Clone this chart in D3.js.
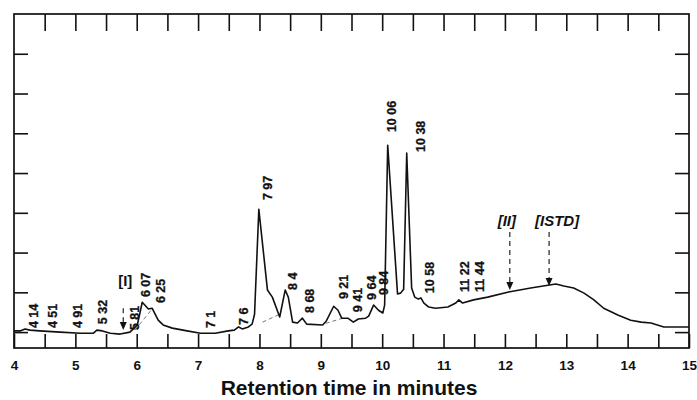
<html>

<head>
    <meta charset="utf-8">
    <style>
        body { margin: 0; background: #fff; }
        text { font-family: "Liberation Sans", Arial, sans-serif; font-weight: bold; }
    </style>
</head>

<body>
    <script src="https://cdn.jsdelivr.net/npm/d3@7"></script>
    <script>
        // trace: retention time (min) and detector signal (tick units)
        var times = [4.00, 4.10, 4.18, 4.26, 4.42, 4.75, 5.08, 5.29, 5.35, 5.44, 5.57, 5.73, 5.89, 6.01, 6.09, 6.19, 6.25,
            6.35, 6.43, 6.58, 6.82, 7.04, 7.28, 7.49, 7.59, 7.66, 7.72, 7.82, 7.88, 7.92, 7.99, 8.13, 8.21, 8.33,
            8.42, 8.47, 8.54, 8.62, 8.70, 8.77, 9.03, 9.09, 9.21, 9.28, 9.34, 9.44, 9.53, 9.61, 9.73, 9.78, 9.86,
            9.94, 10.01, 10.04, 10.09, 10.25, 10.30, 10.35, 10.40, 10.48, 10.53, 10.59, 10.63, 10.68, 10.76, 10.87,
            11.07, 11.20, 11.25, 11.31, 11.49, 11.72, 12.06, 12.42, 12.70, 12.83, 12.96, 13.12, 13.29, 13.45, 13.61,
            13.84, 14.05, 14.22, 14.38, 14.59, 15.00];
        var signal = [0.03, 0.03, 0.08, 0.05, 0.03, 0.00, -0.03, -0.03, 0.05, 0.03, -0.03, -0.05, 0.00, 0.18, 0.75, 0.58, 0.60,
            0.30, 0.18, 0.10, 0.03, -0.03, -0.03, 0.03, 0.05, 0.13, 0.08, 0.13, 0.20, 0.45, 3.09, 1.06, 0.88, 0.38,
            1.06, 0.88, 0.25, 0.23, 0.35, 0.20, 0.18, 0.28, 0.65, 0.55, 0.35, 0.35, 0.25, 0.33, 0.35, 0.40, 0.68,
            0.55, 0.48, 0.68, 4.70, 0.96, 0.98, 1.08, 4.50, 1.11, 0.88, 0.83, 0.86, 0.73, 0.63, 0.60,
            0.63, 0.73, 0.81, 0.73, 0.81, 0.88, 1.01, 1.11, 1.18, 1.21, 1.16, 1.11, 0.98, 0.81, 0.60,
            0.43, 0.30, 0.25, 0.23, 0.13, 0.13];

        // peak labels, where they sit (time) and the level their foot starts at
        var peakLabels = ["4 14", "4 51", "4 91", "5 32", "5 81", "6 07", "6 25", "7 1", "7 6", "7 97", "8 4", "8 68",
            "9 21", "9 41", "9 64", "9 84", "10 06", "10 38", "10 58", "11 22", "11 44"];
        var labelTimes = [4.31, 4.62, 5.04, 5.45, 5.97, 6.15, 6.38, 7.20, 7.74, 8.13, 8.54, 8.81,
            9.37, 9.60, 9.83, 10.02, 10.15, 10.63, 10.77, 11.34, 11.59];
        var labelLevels = [0.10, 0.10, 0.10, 0.20, 0.05, 0.88, 0.73, 0.10, 0.18, 3.32, 1.06, 0.48,
            0.83, 0.50, 0.81, 0.93, 5.03, 4.53, 0.98, 1.01, 1.01];

        // marked compounds with dashed arrows
        var markNames = ["[I]", "[II]", "[ISTD]"];
        var markTimes = [5.78, 12.08, 12.72];
        var markTop = [0.60, 2.52, 2.52];
        var markTip = [0.05, 1.06, 1.16];

        // integration drop lines under some peaks
        var baseFrom = [[5.97, 0.05], [8.05, 0.25], [9.08, 0.22]];
        var baseTo = [[6.25, 0.58], [8.33, 0.45], [9.36, 0.35]];

        var xTicks = d3.range(4, 15.01, 0.5);
        var yTicks = [0, 1, 2, 3, 4, 5, 6, 7];

        var width = 697, height = 400;
        var margin = { top: 14, right: 8, bottom: 52, left: 14 };

        var svg = d3.select("body")
            .append("svg")
            .attr("width", width)
            .attr("height", height);

        var x = d3.scaleLinear().domain([4, 15]).range([margin.left, width - margin.right]);
        var y = d3.scaleLinear().domain([-0.4, 8]).range([height - margin.bottom, margin.top]);

        // frame
        svg.append("rect")
            .attr("x", x(4)).attr("y", y(8))
            .attr("width", x(15) - x(4)).attr("height", y(-0.4) - y(8))
            .attr("fill", "none").attr("stroke", "#111").attr("stroke-width", 1.7);

        function styleAxis(g) {
            g.select(".domain").remove();
            g.selectAll(".tick line").attr("stroke", "#111").attr("stroke-width", 1.6);
        }

        svg.append("g")
            .attr("transform", "translate(0," + y(-0.4) + ")")
            .call(d3.axisBottom(x).tickValues(xTicks).tickSize(-14).tickPadding(12)
                .tickFormat(d => Number.isInteger(d) ? d : ""))
            .call(styleAxis)
            .selectAll("text")
            .attr("fill", "#111")
            .style("font-size", "13.5px")
            .style("font-family", "'Liberation Sans', Arial, sans-serif")
            .style("font-weight", "bold");

        svg.append("g")
            .attr("transform", "translate(0," + y(8) + ")")
            .call(d3.axisTop(x).tickValues(xTicks.filter(d => d > 4 && d < 15)).tickSize(-17).tickFormat(""))
            .call(styleAxis);

        svg.append("g")
            .attr("transform", "translate(" + x(4) + ",0)")
            .call(d3.axisLeft(y).tickValues(yTicks).tickSize(-14).tickFormat(""))
            .call(styleAxis);

        svg.append("g")
            .attr("transform", "translate(" + x(15) + ",0)")
            .call(d3.axisRight(y).tickValues(yTicks).tickSize(-14).tickFormat(""))
            .call(styleAxis);

        // drop lines
        svg.selectAll(".base")
            .data(d3.range(baseFrom.length))
            .enter()
            .append("line")
            .attr("x1", i => x(baseFrom[i][0])).attr("y1", i => y(baseFrom[i][1]))
            .attr("x2", i => x(baseTo[i][0])).attr("y2", i => y(baseTo[i][1]))
            .attr("stroke", "#555").attr("stroke-width", 0.8).attr("stroke-dasharray", "4,3");

        // chromatogram
        var pts = times.map((t, i) => [t, signal[i]]);
        svg.append("path")
            .datum(pts)
            .attr("fill", "none")
            .attr("stroke", "#111")
            .attr("stroke-width", 1.6)
            .attr("stroke-linejoin", "round")
            .attr("d", d3.line().x(d => x(d[0])).y(d => y(d[1])));

        // rotated peak labels
        svg.selectAll(".plabel")
            .data(peakLabels)
            .enter()
            .append("text")
            .attr("transform", (d, i) => "translate(" + x(labelTimes[i]) + "," + y(labelLevels[i]) + ") rotate(-90)")
            .attr("dy", "0.36em")
            .style("font-size", "12.5px")
            .attr("fill", "#111")
            .attr("stroke", "#111")
            .attr("stroke-width", 0.3)
            .text(d => d);

        // dashed arrows for marked compounds
        svg.selectAll(".mark")
            .data(markNames)
            .enter()
            .append("line")
            .attr("x1", (d, i) => x(markTimes[i])).attr("x2", (d, i) => x(markTimes[i]))
            .attr("y1", (d, i) => y(markTop[i])).attr("y2", (d, i) => y(markTip[i]) - 6)
            .attr("stroke", "#111").attr("stroke-width", 1.1).attr("stroke-dasharray", "5,4");

        svg.selectAll(".head")
            .data(markNames)
            .enter()
            .append("path")
            .attr("fill", "#111")
            .attr("d", (d, i) => {
                var px = x(markTimes[i]), py = y(markTip[i]);
                return "M" + px + "," + py + "L" + (px - 3.5) + "," + (py - 8) + "L" + (px + 3.5) + "," + (py - 8) + "Z";
            });

        svg.selectAll(".mname")
            .data(markNames)
            .enter()
            .append("text")
            .attr("x", (d, i) => x(markTimes[i]) + (i == 0 ? 2 : (i == 1 ? -3 : 8)))
            .attr("y", (d, i) => y(markTop[i]) - (i == 0 ? 22 : 6))
            .attr("text-anchor", "middle")
            .style("font-size", "15px")
            .style("font-style", (d, i) => i == 0 ? "normal" : "italic")
            .attr("fill", "#111")
            .text(d => d);

        svg.append("text")
            .attr("x", 349)
            .attr("y", 395)
            .attr("text-anchor", "middle")
            .style("font-size", "21px")
            .attr("fill", "#111")
            .text("Retention time in minutes");
    </script>
</body>

</html>
